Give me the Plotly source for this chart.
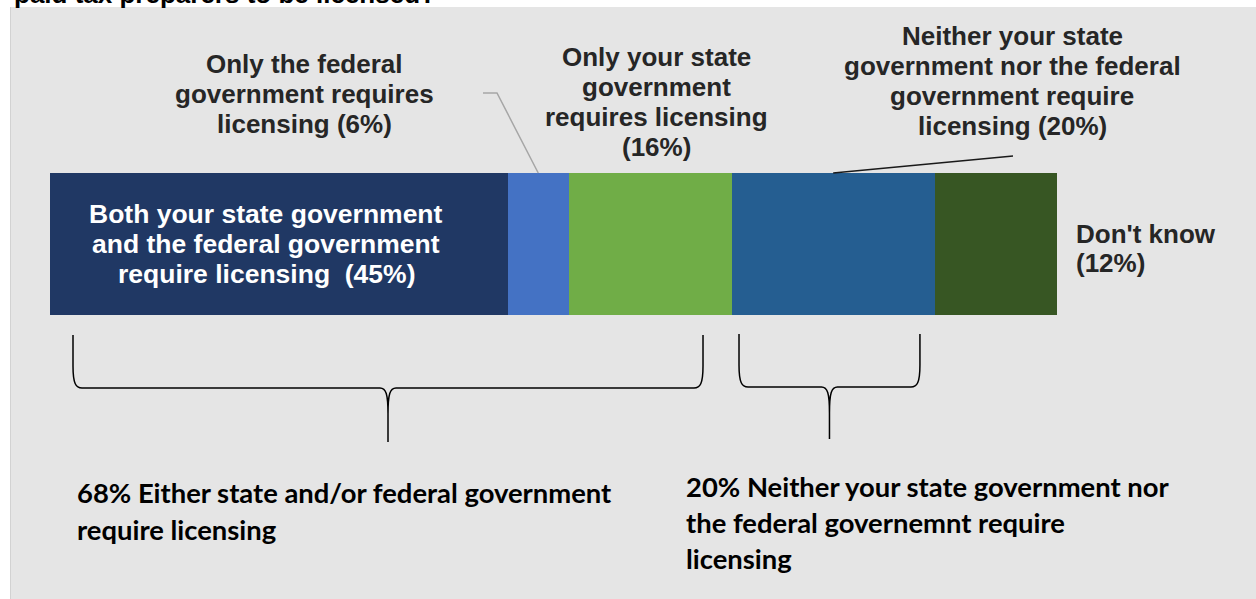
import plotly.graph_objects as go

# Who requires paid tax preparers to be licensed (share of respondents, %)
categories = [
    "Both your state government and the federal government require licensing",
    "Only the federal government requires licensing",
    "Only your state government requires licensing",
    "Neither your state government nor the federal government require licensing",
    "Don't know",
]
shares = [45, 6, 16, 20, 12]
colors = ["#203864", "#4472C4", "#70AD47", "#255E91", "#375623"]

# Label text per segment (the share is appended from the data)
label_heads = [
    ["Both your state government", "and the federal government", "require licensing\u00a0 "],
    ["Only the federal", "government requires", "licensing "],
    ["Only your state", "government", "requires licensing", ""],
    ["Neither your state", "government nor the federal", "government require", "licensing "],
    ["Don't know", ""],
]

# Group summaries under the bar: (first segment, last segment, text lines)
groups = [
    (0, 2, ["68% Either state and/or federal government", "require licensing"]),
    (3, 3, ["20% Neither your state government nor", "the federal governemnt require", "licensing"]),
]
title_text = "paid tax preparers to be licensed?"

# ---- page geometry (pixels) ----
W, H = 1256, 599
BAR_LEFT = 50
BAR_SPAN = 1007
K = BAR_SPAN / sum(shares)          # pixels per percentage point
BAR_MID, BAR_THICK = 244, 142
BAR_TOP = BAR_MID - BAR_THICK / 2


def xd(px):
    """pixel column -> x data value"""
    return (px - BAR_LEFT) / K


def xp(v):
    """x data value -> pixel column"""
    return BAR_LEFT + v * K


cum = [0]
for s in shares:
    cum.append(cum[-1] + s)

fig = go.Figure()
for name, val, col in zip(categories, shares, colors):
    fig.add_trace(go.Bar(
        x=[val], y=[BAR_MID], orientation="h", width=BAR_THICK, name=name,
        marker=dict(color=col, line=dict(width=0)), hoverinfo="skip", showlegend=False,
    ))

shapes = []
# grey panel behind the chart
shapes.append(dict(type="rect", xref="x", yref="y", x0=xd(10), x1=xd(W + 5), y0=7, y1=H + 5,
                   fillcolor="#E5E5E5", line=dict(width=0), layer="below"))
shapes.append(dict(type="line", xref="x", yref="y", x0=xd(10.5), x1=xd(10.5), y0=7, y1=H + 5,
                   line=dict(color="#D2D2D2", width=1), layer="below"))

# leader lines from callouts to their segments
mid1 = (cum[1] + cum[2]) / 2
shapes.append(dict(type="path", xref="x", yref="y",
                   path=f"M {mid1},{BAR_TOP} L {xd(497)},93 L {xd(483)},93",
                   line=dict(color="#A6A6A6", width=1.5), layer="above"))
mid3 = (cum[3] + cum[4]) / 2
shapes.append(dict(type="line", xref="x", yref="y", x0=mid3, y0=BAR_TOP, x1=xd(1013), y1=156,
                   line=dict(color="#1A1A1A", width=1.5), layer="above"))

# curly brackets spanning each group
bracket_style = [
    dict(inset=(23, 28.5), top=335, flat=388, tip=442),
    dict(inset=(7.5, 15), top=334, flat=387, tip=439),
]


def bracket(l, r, top, flat, tip):
    c = (l + r) / 2
    pts = [
        ("M", [(l, top)]),
        ("L", [(l, flat - 22)]),
        ("C", [(l, flat - 4), (l + 3, flat), (l + 9, flat)]),
        ("L", [(c - 8, flat)]),
        ("C", [(c - 2, flat), (c, flat + 6), (c, flat + 26)]),
        ("L", [(c, tip)]),
        ("M", [(c, flat + 26)]),
        ("C", [(c, flat + 6), (c + 2, flat), (c + 8, flat)]),
        ("L", [(r - 9, flat)]),
        ("C", [(r - 3, flat), (r, flat - 4), (r, flat - 22)]),
        ("L", [(r, top)]),
    ]
    return " ".join(cmd + " " + " ".join(f"{xd(px)},{py}" for px, py in p) for cmd, p in pts)


for (g0, g1, _), st in zip(groups, bracket_style):
    left = xp(cum[g0]) + st["inset"][0]
    right = xp(cum[g1 + 1]) - st["inset"][1]
    shapes.append(dict(type="path", xref="x", yref="y",
                       path=bracket(left, right, st["top"], st["flat"], st["tip"]),
                       line=dict(color="#000000", width=1.5), layer="above"))

annotations = []
ARIAL = "Liberation Sans, Arial, sans-serif"
CALIBRI = "Lato, Calibri, sans-serif"


def add_lines(lines, x, baselines, size, color, family, anchor="center", mid=0.3465):
    for line, b in zip(lines, baselines):
        annotations.append(dict(
            xref="paper", yref="paper", x=x / W, y=1 - (b - mid * size) / H,
            xanchor=anchor, yanchor="middle", showarrow=False, text=line,
            font=dict(family=family, size=size, color=color, weight="bold"),
        ))


labels = []
for i, head in enumerate(label_heads):
    lines = list(head)
    lines[-1] = f"{lines[-1]}({shares[i]}%)"
    labels.append(lines)

add_lines(labels[0], 266, [223, 253, 283], 26.5, "#FFFFFF", ARIAL)
add_lines(labels[1], 304, [73, 103, 133], 26, "#262626", ARIAL)
add_lines(labels[2], 656, [66, 96, 126, 156], 26, "#262626", ARIAL)
add_lines(labels[3], 1012, [45, 75, 105, 135], 26, "#262626", ARIAL)
add_lines(labels[4], 1074, [243, 272], 26, "#262626", ARIAL, anchor="left")

add_lines(groups[0][2], 75, [503, 540], 27.4, "#000000", CALIBRI, anchor="left", mid=0.387)
add_lines(groups[1][2], 684, [497, 533, 569], 27.4, "#000000", CALIBRI, anchor="left", mid=0.387)

# question text running off the top edge
add_lines([title_text], 12, [3], 26, "#000000", ARIAL, anchor="left")

fig.update_layout(
    width=W, height=H,
    margin=dict(l=0, r=0, t=0, b=0),
    paper_bgcolor="#FFFFFF", plot_bgcolor="rgba(0,0,0,0)",
    barmode="stack", bargap=0,
    xaxis=dict(range=[xd(0), xd(W)], visible=False, fixedrange=True),
    yaxis=dict(range=[H, 0], visible=False, fixedrange=True),
    shapes=shapes, annotations=annotations,
)

fig.write_html("out.html", config={"displayModeBar": False})
